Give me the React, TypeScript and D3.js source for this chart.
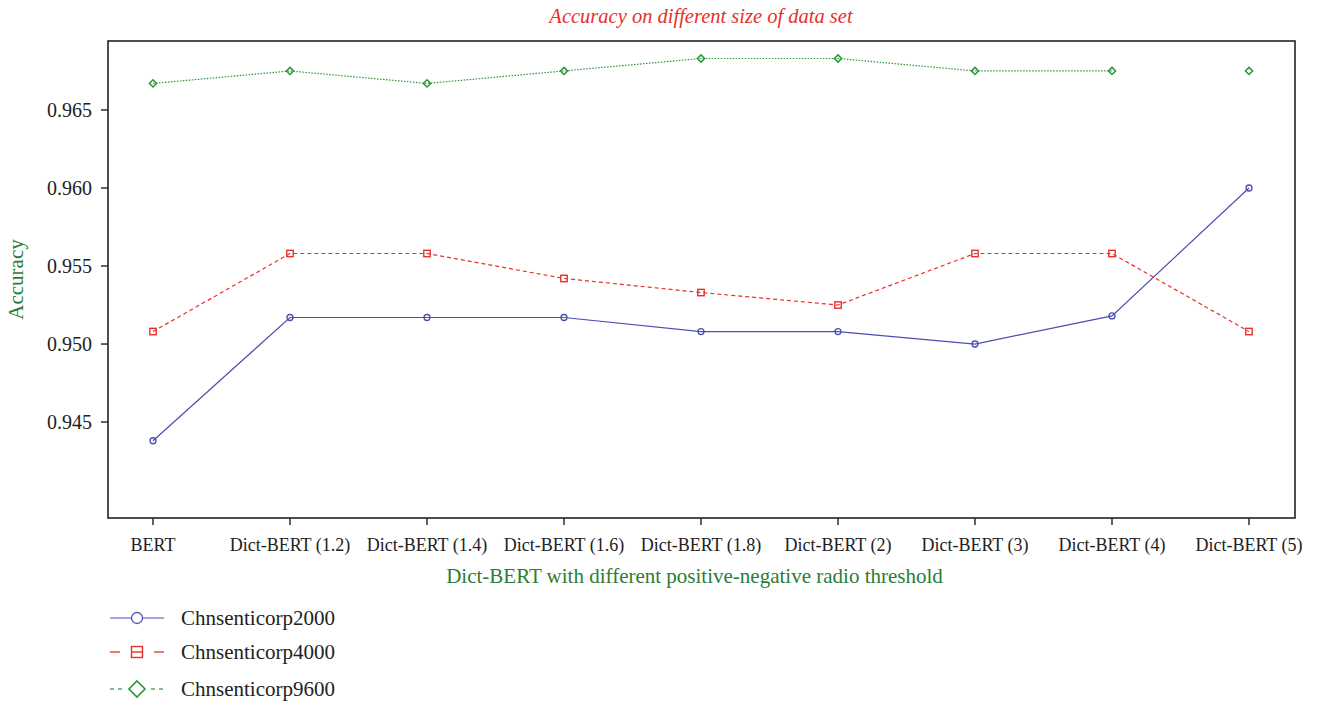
import React from "react";
import * as d3 from "d3";

const categories = [
  "BERT",
  "Dict-BERT (1.2)",
  "Dict-BERT (1.4)",
  "Dict-BERT (1.6)",
  "Dict-BERT (1.8)",
  "Dict-BERT (2)",
  "Dict-BERT (3)",
  "Dict-BERT (4)",
  "Dict-BERT (5)",
];
const chn2000 = [0.9438, 0.9517, 0.9517, 0.9517, 0.9508, 0.9508, 0.95, 0.9518, 0.96];
const chn4000 = [0.9508, 0.9558, 0.9558, 0.9542, 0.9533, 0.9525, 0.9558, 0.9558, 0.9508];
const chn9600 = [0.9667, 0.9675, 0.9667, 0.9675, 0.9683, 0.9683, 0.9675, 0.9675, 0.9675];
const yTicks = [0.945, 0.95, 0.955, 0.96, 0.965];
const seriesNames = ["Chnsenticorp2000", "Chnsenticorp4000", "Chnsenticorp9600"];

const FONT = "'Liberation Serif', 'DejaVu Serif', serif";
const BLUE = "#4b4fb3";
const RED = "#e8302a";
const GREEN = "#2a9638";
const GREEN_TEXT = "#2b7d36";

export default function App() {
  const W = 1320, H = 703;
  const left = 108, right = 1295, top = 41, bottom = 518;
  const x = d3.scalePoint<string>().domain(categories).range([153, 1249]);
  const y = d3.scaleLinear().domain([0.93885, 0.96942]).range([bottom, top]);

  const line = d3
    .line<number>()
    .x((_, i) => x(categories[i]) as number)
    .y((d) => y(d));

  // green series line is drawn through BERT..Dict-BERT (4); last point stands alone
  const greenLine = line(chn9600.slice(0, 8)) as string;

  const circle = (cx: number, cy: number, r: number, key: any, sw = 1.3) => (
    <circle key={key} cx={cx} cy={cy} r={r} fill="none" stroke={BLUE} strokeWidth={sw} />
  );
  const square = (cx: number, cy: number, s: number, key: any, mid = false, sw = 1.4) => (
    <g key={key}>
      <rect x={cx - s} y={cy - s} width={2 * s} height={2 * s} fill="none" stroke={RED} strokeWidth={sw} />
      {mid && <line x1={cx - s} x2={cx + s} y1={cy} y2={cy} stroke={RED} strokeWidth={sw} />}
    </g>
  );
  const diamond = (cx: number, cy: number, s: number, key: any, sw = 1.5) => (
    <path
      key={key}
      d={`M${cx},${cy - s}L${cx + s},${cy}L${cx},${cy + s}L${cx - s},${cy}Z`}
      fill="none"
      stroke={GREEN}
      strokeWidth={sw}
    />
  );

  const legendY = [618, 652, 689];

  return (
    <svg width={W} height={H} style={{ position: "absolute", left: 0, top: 0, background: "#fff" }}>
      <text x={701} y={23} textAnchor="middle" fontFamily={FONT} fontStyle="italic" fontSize={20.5} fill={RED}>
        Accuracy on different size of data set
      </text>

      {/* frame */}
      <rect x={left} y={top} width={right - left} height={bottom - top} fill="none" stroke="#222" strokeWidth={1.6} />

      {/* y ticks */}
      {yTicks.map((t) => (
        <g key={t}>
          <line x1={left - 7} x2={left} y1={y(t)} y2={y(t)} stroke="#222" strokeWidth={1.4} />
          <text x={92} y={y(t)} dy="0.35em" textAnchor="end" fontFamily={FONT} fontSize={20} fill="#222">
            {d3.format(".3f")(t)}
          </text>
        </g>
      ))}
      {/* x ticks */}
      {categories.map((c) => (
        <g key={c}>
          <line x1={x(c)} x2={x(c)} y1={bottom} y2={bottom + 7} stroke="#222" strokeWidth={1.4} />
          <text x={x(c)} y={551} textAnchor="middle" fontFamily={FONT} fontSize={18} fill="#222">
            {c}
          </text>
        </g>
      ))}

      <text
        transform={`translate(23,${(top + bottom) / 2}) rotate(-90)`}
        textAnchor="middle"
        fontFamily={FONT}
        fontSize={21}
        fill={GREEN_TEXT}
      >
        Accuracy
      </text>
      <text x={(left + right) / 2 - 7} y={583} textAnchor="middle" fontFamily={FONT} fontSize={21} fill={GREEN_TEXT}>
        Dict-BERT with different positive-negative radio threshold
      </text>

      {/* series */}
      <path d={greenLine} fill="none" stroke={GREEN} strokeWidth={1.2} strokeDasharray="1.5,1.5" />
      <path d={line(chn4000) as string} fill="none" stroke={RED} strokeWidth={1.2} strokeDasharray="4,3" />
      <path d={line(chn2000) as string} fill="none" stroke={BLUE} strokeWidth={1.2} />

      {chn9600.map((v, i) => diamond(x(categories[i]) as number, y(v), 3.6, "g" + i))}
      {chn4000.map((v, i) => square(x(categories[i]) as number, y(v), 3.2, "r" + i))}
      {chn2000.map((v, i) => circle(x(categories[i]) as number, y(v), 3, "b" + i))}

      {/* legend */}
      <line x1={110} x2={164} y1={legendY[0]} y2={legendY[0]} stroke={BLUE} strokeWidth={1.2} />
      <circle cx={137} cy={legendY[0]} r={5.5} fill="#fff" stroke={BLUE} strokeWidth={1.3} />

      <line x1={110} x2={120} y1={legendY[1]} y2={legendY[1]} stroke={RED} strokeWidth={1.3} />
      <line x1={154} x2={164} y1={legendY[1]} y2={legendY[1]} stroke={RED} strokeWidth={1.3} />
      {square(137, legendY[1], 5.5, "lr", true, 1.4)}

      {[110, 118, 151, 159].map((lx) => (
        <line key={lx} x1={lx} x2={lx + 4} y1={legendY[2]} y2={legendY[2]} stroke={GREEN} strokeWidth={1.2} />
      ))}
      {diamond(137, legendY[2], 8, "lg", 1.6)}

      {seriesNames.map((s, i) => (
        <text key={s} x={181} y={legendY[i]} dy="0.35em" fontFamily={FONT} fontSize={21} fill="#222">
          {s}
        </text>
      ))}
    </svg>
  );
}
